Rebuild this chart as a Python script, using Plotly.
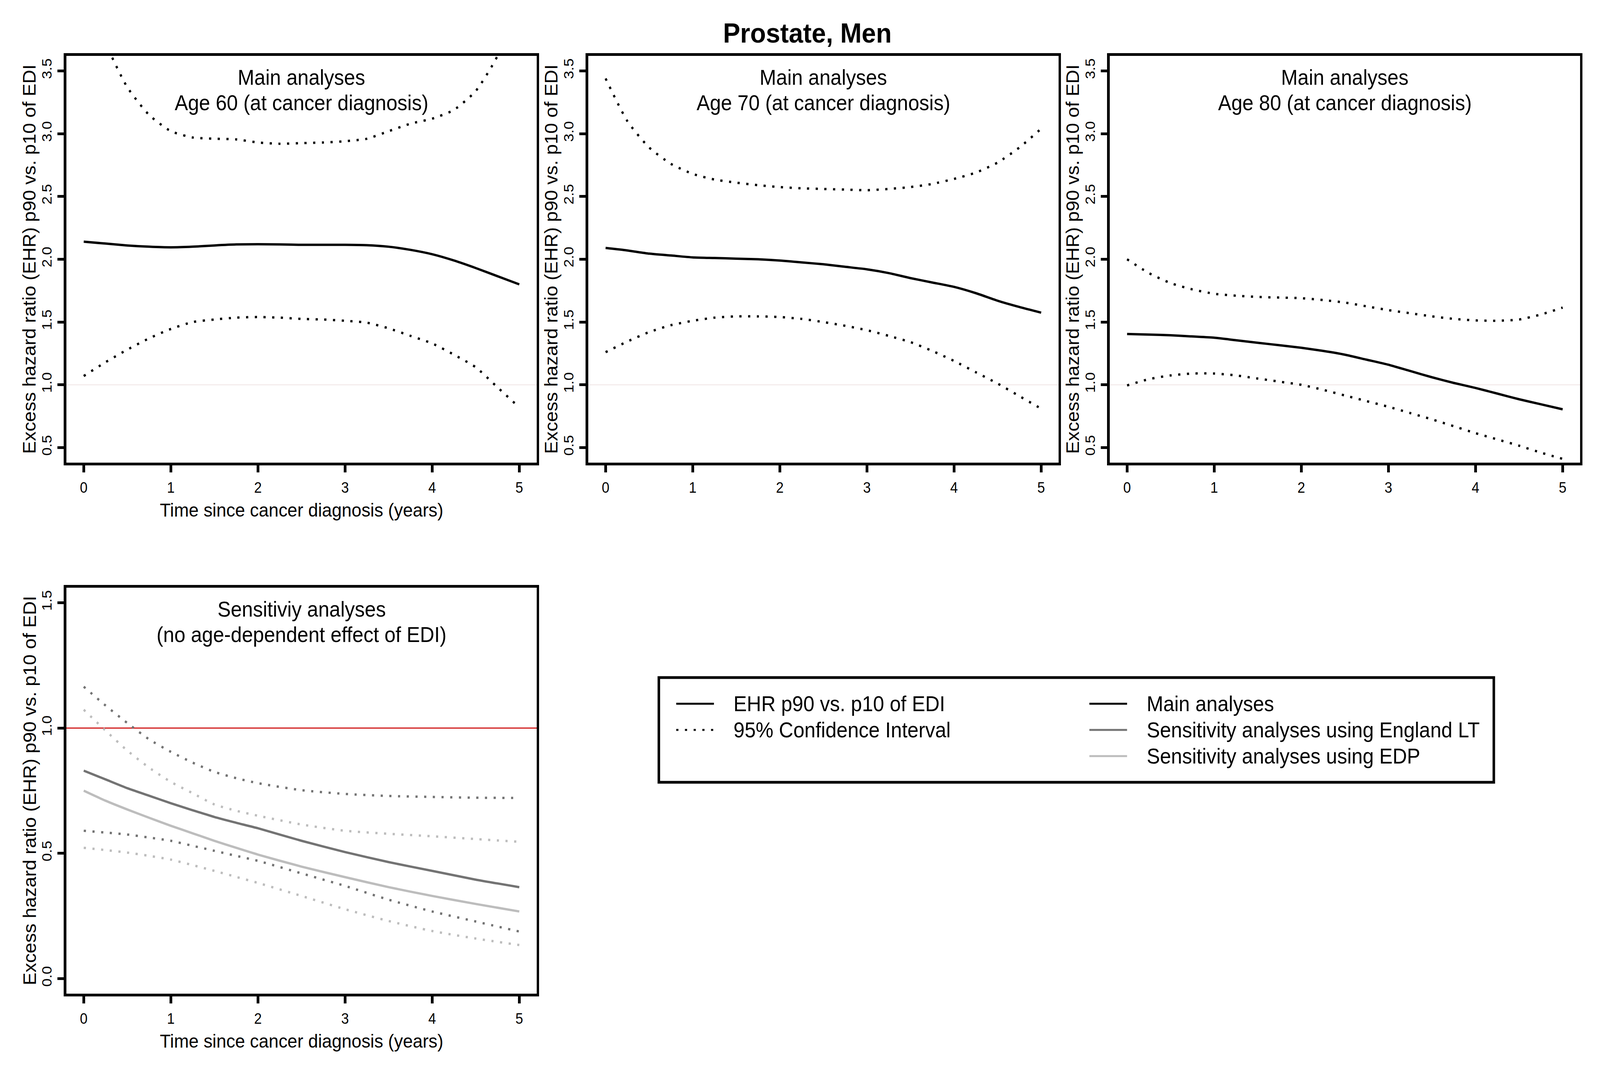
import plotly.graph_objects as go

W, H = 4415, 2746
FONT = "Liberation Sans, Arial, sans-serif"

# ---------------- data ----------------
t = [0, 0.25, 0.5, 0.75, 1.0, 1.25, 1.5, 1.75, 2.0, 2.25, 2.5, 2.75,
     3.0, 3.25, 3.5, 3.75, 4.0, 4.25, 4.5, 4.75, 5.0]

# Age 60
ehr60 = [2.14, 2.125, 2.11, 2.10, 2.095, 2.10, 2.11, 2.118, 2.12, 2.118, 2.115,
         2.115, 2.115, 2.112, 2.10, 2.075, 2.04, 1.99, 1.93, 1.865, 1.80]
up60 = [4.15, 3.72, 3.37, 3.15, 3.02, 2.97, 2.96, 2.955, 2.93, 2.92, 2.925,
        2.93, 2.94, 2.96, 3.02, 3.08, 3.12, 3.19, 3.34, 3.62, 4.10]
lo60 = [1.07, 1.18, 1.28, 1.37, 1.445, 1.50, 1.52, 1.535, 1.54, 1.535, 1.525,
        1.52, 1.51, 1.495, 1.45, 1.39, 1.33, 1.24, 1.14, 0.98, 0.82]

# Age 70
ehr70 = [2.09, 2.07, 2.045, 2.03, 2.015, 2.01, 2.005, 2.0, 1.99, 1.975, 1.96,
         1.94, 1.92, 1.89, 1.85, 1.815, 1.78, 1.73, 1.67, 1.62, 1.575]
up70 = [3.44, 3.10, 2.89, 2.76, 2.68, 2.635, 2.61, 2.59, 2.575, 2.565, 2.56,
        2.555, 2.55, 2.56, 2.575, 2.60, 2.64, 2.69, 2.77, 2.89, 3.04]
lo70 = [1.26, 1.345, 1.42, 1.475, 1.51, 1.535, 1.545, 1.545, 1.54, 1.525, 1.50,
        1.47, 1.435, 1.39, 1.34, 1.27, 1.19, 1.10, 1.01, 0.91, 0.81]

# Age 80
ehr80 = [1.405, 1.40, 1.395, 1.385, 1.375, 1.355, 1.335, 1.315, 1.295, 1.27, 1.24,
         1.20, 1.16, 1.11, 1.06, 1.015, 0.975, 0.93, 0.885, 0.845, 0.805]
up80 = [2.0, 1.89, 1.81, 1.76, 1.725, 1.71, 1.70, 1.695, 1.69, 1.675, 1.655,
        1.625, 1.595, 1.57, 1.545, 1.525, 1.513, 1.51, 1.52, 1.56, 1.615]
lo80 = [0.995, 1.045, 1.075, 1.09, 1.09, 1.075, 1.05, 1.025, 1.0, 0.96, 0.915,
        0.87, 0.825, 0.775, 0.725, 0.67, 0.615, 0.565, 0.515, 0.46, 0.41]

# Sensitivity analyses
ts = [0, 0.25, 0.5, 0.75, 1.0, 1.25, 1.5, 1.75, 2.0, 2.5, 3.0, 3.5, 4.0, 4.5, 5.0]
eng = [0.83, 0.795, 0.76, 0.73, 0.70, 0.672, 0.645, 0.622, 0.60, 0.55, 0.505,
       0.465, 0.43, 0.395, 0.365]
eng_up = [1.165, 1.09, 1.02, 0.955, 0.905, 0.862, 0.825, 0.80, 0.78, 0.752, 0.737,
          0.729, 0.725, 0.722, 0.721]
eng_lo = [0.59, 0.583, 0.575, 0.563, 0.55, 0.53, 0.51, 0.49, 0.47, 0.42, 0.37,
          0.315, 0.268, 0.228, 0.188]
edp = [0.75, 0.71, 0.675, 0.642, 0.61, 0.58, 0.55, 0.522, 0.495, 0.447, 0.405,
       0.365, 0.33, 0.298, 0.268]
edp_up = [1.073, 0.99, 0.91, 0.842, 0.785, 0.74, 0.695, 0.67, 0.65, 0.615, 0.59,
          0.578, 0.568, 0.557, 0.546]
edp_lo = [0.522, 0.513, 0.503, 0.49, 0.475, 0.453, 0.43, 0.406, 0.382, 0.33, 0.277,
          0.23, 0.19, 0.16, 0.134]

x_ticks = [0, 1, 2, 3, 4, 5]
y_ticks_main = [0.5, 1.0, 1.5, 2.0, 2.5, 3.0, 3.5]
y_ticks_sens = [0.0, 0.5, 1.0, 1.5]

panel_titles = [
    ("Main analyses", "Age 60 (at cancer diagnosis)"),
    ("Main analyses", "Age 70 (at cancer diagnosis)"),
    ("Main analyses", "Age 80 (at cancer diagnosis)"),
    ("Sensitiviy analyses", "(no age-dependent effect of EDI)"),
]
ylab = "Excess hazard ratio (EHR) p90 vs. p10 of EDI"
xlab = "Time since cancer diagnosis (years)"

legend_left = ["EHR p90 vs. p10 of EDI", "95% Confidence Interval"]
legend_right = ["Main analyses", "Sensitivity analyses using England LT",
                "Sensitivity analyses using EDP"]

BLACK = "#000000"
DARK = "#737373"
LIGHT = "#BDBDBD"
RED = "#D01818"
DOT = "6px,18px"
LW = 6

# ---------------- layout geometry (pixels) ----------------
px_x = [(183, 1481), (1623, 2921), (3062, 4360), (183, 1481)]
px_y = [(143, 1184), (143, 1184), (143, 1184), (1504, 2543)]


def fx(p):
    return p / W


def fy(p):
    return 1 - p / H


fig = go.Figure()


def add_line(xs, ys, k, color, dash=None):
    suffix = "" if k == 1 else str(k)
    fig.add_trace(go.Scatter(
        x=xs, y=ys, mode="lines", xaxis="x" + suffix, yaxis="y" + suffix,
        line=dict(color=color, width=LW, dash=dash, shape="spline", smoothing=0.6),
        showlegend=False, hoverinfo="skip"))


for k, (e, u, l) in enumerate([(ehr60, up60, lo60), (ehr70, up70, lo70),
                               (ehr80, up80, lo80)], start=1):
    add_line(t, e, k, BLACK)
    add_line(t, u, k, BLACK, DOT)
    add_line(t, l, k, BLACK, DOT)

add_line(ts, eng_up, 4, DARK, DOT)
add_line(ts, eng_lo, 4, DARK, DOT)
add_line(ts, edp_up, 4, LIGHT, DOT)
add_line(ts, edp_lo, 4, LIGHT, DOT)
add_line(ts, eng, 4, DARK)
add_line(ts, edp, 4, LIGHT)

axis_common = dict(showline=True, linecolor="black", linewidth=7, mirror=True,
                   ticks="outside", ticklen=18, tickwidth=7, tickcolor="black",
                   showgrid=False, zeroline=False,
                   tickfont=dict(family=FONT, size=38, color="black"))

layout = dict(width=W, height=H, margin=dict(l=0, r=0, t=0, b=0),
              paper_bgcolor="white", plot_bgcolor="white", showlegend=False)

for k in range(1, 5):
    suffix = "" if k == 1 else str(k)
    (x0, x1), (y0, y1) = px_x[k - 1], px_y[k - 1]
    layout["xaxis" + suffix] = dict(axis_common, domain=[fx(x0), fx(x1)],
                                    range=[-0.2, 5.2], tickvals=x_ticks,
                                    anchor="y" + suffix, ticklabelstandoff=6)
    if k < 4:
        yr, yt = [0.38, 3.62], y_ticks_main
    else:
        yr, yt = [-0.06, 1.56], y_ticks_sens
    layout["yaxis" + suffix] = dict(axis_common, domain=[fy(y1), fy(y0)],
                                    range=yr, tickvals=yt, tickformat=".1f",
                                    tickangle=-90, anchor="x" + suffix)

fig.update_layout(**layout)

shapes = []
ann = []

# reference lines at EHR = 1
for k in range(1, 4):
    suffix = "" if k == 1 else str(k)
    shapes.append(dict(type="line", xref="x" + suffix + " domain", yref="y" + suffix,
                       x0=0, x1=1, y0=1, y1=1,
                       line=dict(color="#F4ECEC", width=3), layer="below"))
shapes.append(dict(type="line", xref="x4 domain", yref="y4", x0=0, x1=1, y0=1, y1=1,
                   line=dict(color=RED, width=3), layer="below"))

# panel titles
for k in range(4):
    (x0, x1), (y0, y1) = px_x[k], px_y[k]
    cx = (x0 + x1) / 2
    l1, l2 = panel_titles[k]
    ann.append(dict(text=l1, x=fx(cx), y=fy(y0 + 55), xref="paper", yref="paper",
                    showarrow=False, xanchor="center", yanchor="middle",
                    font=dict(family=FONT, size=55, color="black")))
    ann.append(dict(text=l2, x=fx(cx), y=fy(y0 + 120), xref="paper", yref="paper",
                    showarrow=False, xanchor="center", yanchor="middle",
                    font=dict(family=FONT, size=55, color="black")))
    # y-axis title
    ann.append(dict(text=ylab, x=fx(x0 - 101), y=fy((y0 + y1) / 2), xref="paper",
                    yref="paper", showarrow=False, textangle=-90,
                    xanchor="center", yanchor="middle",
                    font=dict(family=FONT, size=49, color="black")))

# x-axis titles (panels 1 and 4)
for k in (0, 3):
    (x0, x1), (y0, y1) = px_x[k], px_y[k]
    ann.append(dict(text=xlab, x=fx((x0 + x1) / 2), y=fy(y1 + 121), xref="paper",
                    yref="paper", showarrow=False, xanchor="center", yanchor="middle",
                    font=dict(family=FONT, size=49, color="black")))

# main title
ann.append(dict(text="<b>Prostate, Men</b>", x=fx(2228), y=fy(85), xref="paper",
                yref="paper", showarrow=False, xanchor="center", yanchor="middle",
                font=dict(family=FONT, size=71, color="black")))

# legend box
shapes.append(dict(type="rect", xref="paper", yref="paper",
                   x0=fx(1818), x1=fx(4122), y0=fy(2002), y1=fy(1734),
                   line=dict(color="black", width=7), fillcolor="white", layer="below"))
rows = [1801, 1868, 1935]
left_styles = [(BLACK, None), (BLACK, DOT)]
for i, txt in enumerate(legend_left):
    c, d = left_styles[i]
    shapes.append(dict(type="line", xref="paper", yref="paper",
                       x0=fx(1866), x1=fx(1970), y0=fy(rows[i]), y1=fy(rows[i]),
                       line=dict(color=c, width=5, dash=d)))
    ann.append(dict(text=txt, x=fx(2022), y=fy(rows[i]), xref="paper", yref="paper",
                    showarrow=False, xanchor="left", yanchor="middle",
                    font=dict(family=FONT, size=55, color="black")))
right_colors = [BLACK, DARK, LIGHT]
for i, txt in enumerate(legend_right):
    shapes.append(dict(type="line", xref="paper", yref="paper",
                       x0=fx(3006), x1=fx(3110), y0=fy(rows[i]), y1=fy(rows[i]),
                       line=dict(color=right_colors[i], width=5)))
    ann.append(dict(text=txt, x=fx(3162), y=fy(rows[i]), xref="paper", yref="paper",
                    showarrow=False, xanchor="left", yanchor="middle",
                    font=dict(family=FONT, size=55, color="black")))

fig.update_layout(shapes=shapes, annotations=ann)

# The browser viewport may be narrower than the figure (the window width is
# capped); stretch the drawn figure so it exactly fills the viewport.
fit_js = """
var gd = document.getElementById('{plot_id}');
document.documentElement.style.margin = '0';
document.documentElement.style.padding = '0';
document.documentElement.style.overflow = 'hidden';
document.body.style.margin = '0';
document.body.style.padding = '0';
document.body.style.overflow = 'hidden';
var iw = window.innerWidth, ih = window.innerHeight;
var sx = iw / %d, sy = ih / %d;
if (!(sx > 0)) { sx = 1; }
if (!(sy > 0)) { sy = 1; }
var wrap = document.createElement('div');
wrap.style.width = iw + 'px';
wrap.style.height = ih + 'px';
wrap.style.overflow = 'hidden';
wrap.style.position = 'relative';
gd.parentNode.insertBefore(wrap, gd);
wrap.appendChild(gd);
gd.style.position = 'absolute';
gd.style.left = '0px';
gd.style.top = '0px';
gd.style.transformOrigin = '0 0';
gd.style.transform = 'scale(' + sx + ',' + sy + ')';
""" % (W, H)

fig.write_html("out.html", post_script=fit_js,
               config={"displayModeBar": False, "responsive": False})
